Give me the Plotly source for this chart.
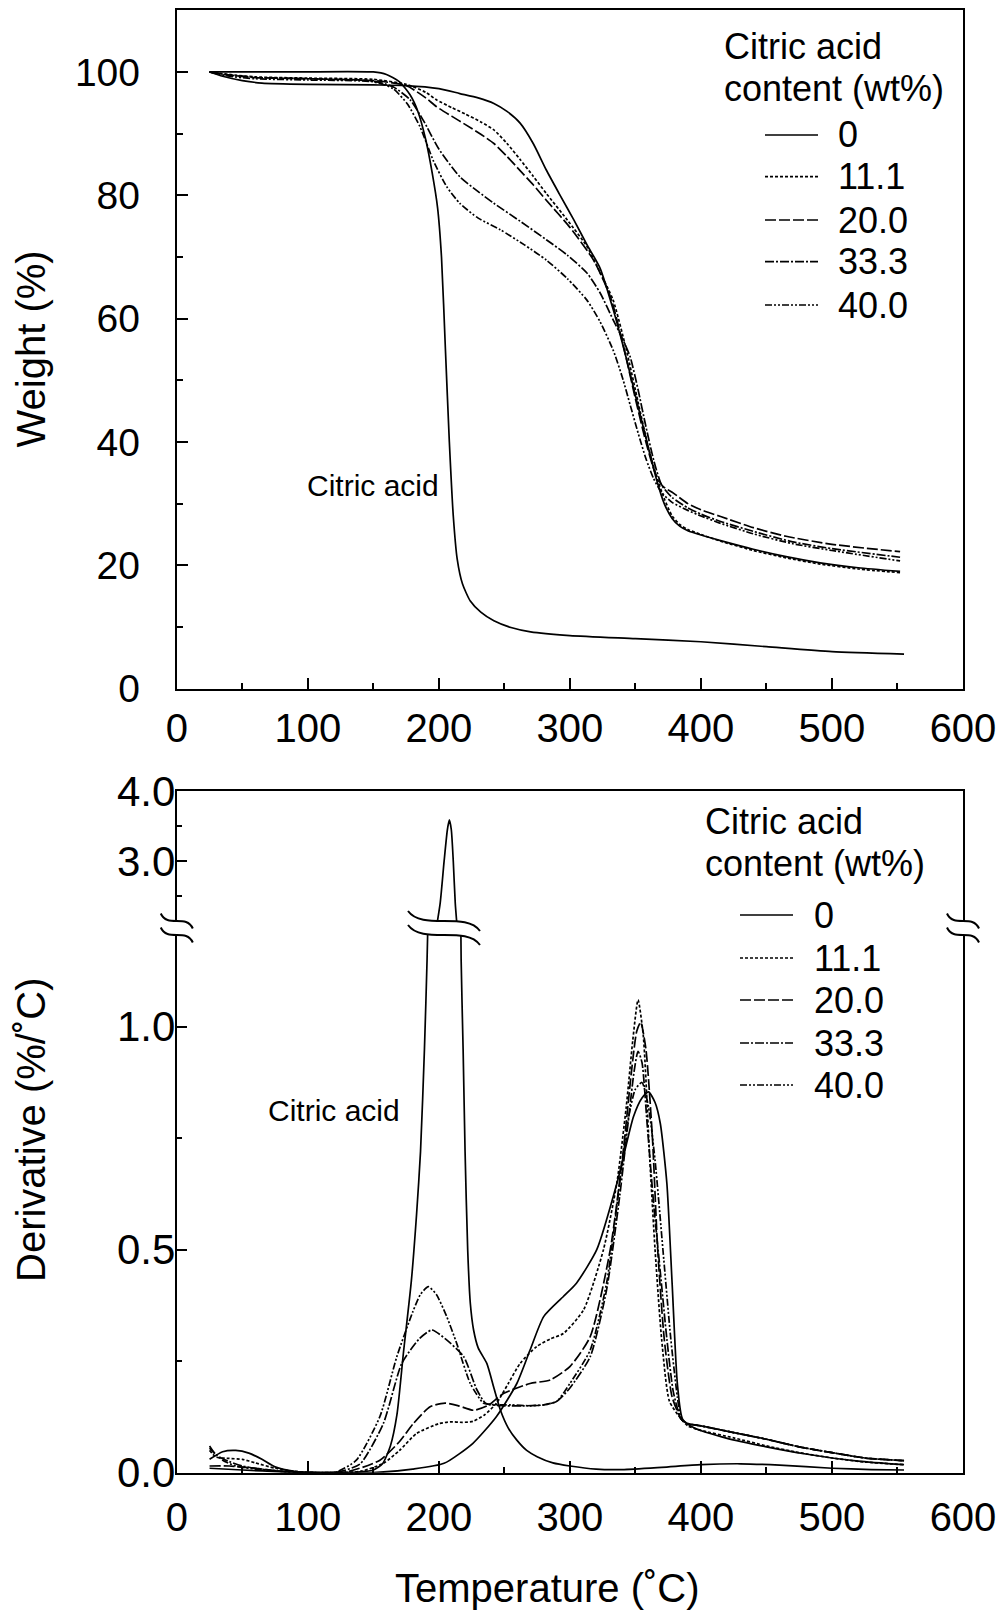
import plotly.graph_objects as go

W, H = 1000, 1612

SERIES = ["0", "11.1", "20.0", "33.3", "40.0"]
CITRIC_LABEL = "Citric acid"
LEGEND_TITLE = ["Citric acid", "content (wt%)"]
X_TICKS = [0, 100, 200, 300, 400, 500, 600]
Y_TOP_TICKS = [0, 20, 40, 60, 80, 100]
Y_LOW_TICKS = [0.0, 0.5, 1.0]
Y_LOW_LABELS = ["0.0", "0.5", "1.0"]
Y_UP_TICKS = [3.0, 4.0]
Y_UP_LABELS = ["3.0", "4.0"]

# ---------------- TGA: weight (%) ----------------
TGA_CA_T = [25, 80, 150, 160, 170, 178, 184, 190, 195, 199, 202, 205, 208, 211, 214, 218, 224, 232, 242, 255, 270, 300, 350, 400, 450, 500, 555]
TGA_CA_W = [100, 100, 100, 99.6, 98.4, 96.3, 93.6, 89, 83.5, 78, 70, 55, 40, 28, 21, 17, 14.2, 12.4, 11, 9.9, 9.2, 8.6, 8.1, 7.6, 6.8, 6.0, 5.6]

TGA_0_T = [25, 35, 50, 65, 100, 150, 175, 200, 216, 230, 242, 252, 262, 272, 282, 292, 303, 313, 323, 333, 343, 352, 360, 366, 372, 378, 384, 390, 400, 415, 440, 465, 491, 520, 552]
TGA_0_W = [100, 99.3, 98.6, 98.2, 98.0, 97.9, 97.8, 97.3, 96.5, 95.8, 94.9, 93.6, 91.7, 88.4, 84.1, 80.2, 76.0, 72.0, 68.2, 61.5, 53.6, 45.8, 39.0, 34.0, 30.0, 27.6, 26.3, 25.6, 24.9, 24.0, 22.6, 21.4, 20.4, 19.6, 19.0]

TGA_11_T = [25, 40, 60, 100, 150, 175, 190, 198, 210, 220, 232, 242, 252, 262, 272, 282, 298, 313, 323, 333, 343, 352, 360, 366, 372, 378, 384, 390, 400, 415, 440, 465, 491, 520, 552]
TGA_11_W = [100, 99.6, 99.2, 99.0, 98.8, 98.0, 96.7, 95.5, 94.2, 93.2, 91.9, 90.6, 88.4, 85.8, 83.1, 80.3, 76.0, 71.7, 67.5, 63.0, 55.0, 46.5, 39.0, 34.5, 30.8, 28.0, 26.6, 25.8, 25.0, 23.9, 22.4, 21.2, 20.2, 19.4, 18.8]

TGA_20_T = [25, 40, 60, 100, 150, 175, 190, 198, 210, 220, 232, 242, 252, 262, 272, 282, 300, 318, 331, 341, 350, 358, 365, 371, 379, 390, 400, 415, 440, 465, 500, 552]
TGA_20_W = [100, 99.5, 99.1, 98.9, 98.6, 97.8, 95.8, 94.4, 92.8, 91.5, 89.9, 88.4, 86.3, 84.0, 81.7, 79.2, 74.8, 69.5, 63.5, 55.4, 47.0, 40.0, 35.0, 32.8, 31.7, 30.0, 29.0, 27.9, 26.1, 24.7, 23.4, 22.2]

TGA_33_T = [25, 40, 60, 100, 150, 165, 178, 188, 200, 216, 230, 242, 262, 282, 298, 313, 323, 333, 340, 346, 352, 358, 364, 370, 378, 390, 400, 415, 440, 470, 500, 552]
TGA_33_W = [100, 99.5, 99.1, 98.9, 98.5, 97.6, 95.5, 92.2, 87.5, 83.0, 80.6, 78.7, 75.8, 72.8, 70.3, 67.4, 64.2, 59.8, 56.8, 53.8, 48.5, 42.5, 37.0, 33.0, 31.0, 29.3, 28.3, 27.1, 25.5, 23.8, 22.7, 21.3]

TGA_40_T = [25, 40, 60, 100, 150, 165, 176, 185.6, 196, 206, 216, 230, 247, 265, 282, 298, 313, 323, 333, 340, 346, 352, 358, 364, 370, 378, 390, 400, 415, 440, 470, 500, 552]
TGA_40_W = [100, 99.3, 98.9, 98.7, 98.4, 97.3, 94.8, 91.1, 85.5, 81.4, 78.7, 76.3, 74.4, 72.0, 69.5, 66.5, 63.0, 59.5, 54.9, 50.5, 46.0, 41.5, 37.3, 34.0, 31.8, 30.2, 28.9, 28.0, 26.8, 25.1, 23.5, 22.4, 20.7]

# ---------------- DTG: derivative (%/°C) ----------------
DTG_CA_T = [25, 50, 80, 110, 140, 150, 157, 163, 168, 173, 179, 183, 186, 189, 191, 196, 201, 204, 206.5, 208, 209.5, 211, 212.5, 215, 217, 218.5, 220, 222, 224, 226.5, 230, 236.6, 242, 247, 253, 259.5, 267, 275, 287, 300, 320, 340, 370, 400, 430, 460, 500, 530, 555]
DTG_CA_V = [0.01, 0.006, 0.002, 0.0, 0.002, 0.006, 0.02, 0.06, 0.13, 0.27, 0.43, 0.58, 0.72, 0.95, 1.15, 1.8, 2.4, 3.0, 3.45, 3.59, 3.45, 3.0, 2.4, 1.8, 1.15, 0.95, 0.72, 0.5, 0.38, 0.32, 0.28, 0.245, 0.19, 0.14, 0.1, 0.073, 0.05, 0.036, 0.022, 0.015, 0.008, 0.007, 0.012, 0.018, 0.02, 0.017, 0.01, 0.007, 0.006]

DTG_0_T = [25, 35, 45, 55, 65, 75, 90, 110, 150, 180, 204, 226, 244, 259.5, 269.6, 280, 295, 305, 320.5, 336, 348.5, 355, 360, 365, 369, 374, 378, 382, 386, 395, 420, 450, 480, 520, 555]
DTG_0_V = [0.03, 0.047, 0.05, 0.044, 0.03, 0.013, 0.003, 0.0, 0.0, 0.008, 0.021, 0.066, 0.126, 0.2, 0.275, 0.35, 0.395, 0.425, 0.5, 0.65, 0.798, 0.84, 0.854, 0.83, 0.783, 0.649, 0.425, 0.2, 0.12, 0.1, 0.077, 0.058, 0.042, 0.026, 0.018]

DTG_11_T = [25, 30, 40, 50, 60, 75, 90, 110, 140, 157.6, 170, 183, 200, 208.6, 218, 226, 235, 244, 253, 262, 274.7, 285, 295, 310.4, 325.6, 335.8, 343, 348, 352, 356, 361, 365, 370, 376, 385, 390, 400, 425, 450, 475, 500, 525, 555]
DTG_11_V = [0.05, 0.035, 0.032, 0.03, 0.022, 0.01, 0.003, 0.0, 0.003, 0.021, 0.05, 0.088, 0.11, 0.114, 0.113, 0.115, 0.13, 0.156, 0.2, 0.245, 0.283, 0.3, 0.312, 0.365, 0.5, 0.649, 0.82, 0.97, 1.06, 0.98, 0.7, 0.5, 0.3, 0.16, 0.12, 0.105, 0.095, 0.078, 0.06, 0.045, 0.033, 0.024, 0.018]

DTG_20_T = [25, 40, 60, 80, 100, 130, 155, 170, 180.5, 193.3, 204.7, 215, 226.4, 237, 249.6, 269.6, 285, 300, 315.5, 330.8, 340.8, 347, 351, 354, 358, 363, 367, 372, 378, 385, 390, 400, 425, 450, 475, 500, 525, 555]
DTG_20_V = [0.015, 0.015, 0.01, 0.003, 0.0, 0.002, 0.028, 0.07, 0.11, 0.148, 0.156, 0.15, 0.14, 0.15, 0.178, 0.2, 0.208, 0.238, 0.305, 0.5, 0.724, 0.9, 0.99, 1.01, 0.95, 0.75, 0.5, 0.3, 0.17, 0.12, 0.11, 0.105, 0.09, 0.075, 0.058, 0.045, 0.033, 0.027]

DTG_33_T = [25, 30, 40, 50, 70, 100, 125, 140, 157.6, 171.7, 185, 194.6, 205, 219, 229, 236, 250, 265, 280, 290, 300, 315.5, 328, 338, 345, 349, 352, 355, 359, 364, 369, 374, 379, 385, 390, 400, 425, 450, 475, 500, 525, 555]
DTG_33_V = [0.06, 0.04, 0.025, 0.015, 0.006, 0.0, 0.003, 0.02, 0.11, 0.245, 0.3, 0.32, 0.3, 0.26, 0.186, 0.155, 0.15, 0.15, 0.152, 0.16, 0.19, 0.26, 0.41, 0.62, 0.8, 0.9, 0.945, 0.92, 0.78, 0.6, 0.45, 0.3, 0.18, 0.12, 0.11, 0.105, 0.09, 0.075, 0.058, 0.045, 0.033, 0.027]

DTG_40_T = [25, 30, 35, 45, 60, 80, 100, 122, 137, 155, 167.9, 180, 186, 192, 198, 206, 213.6, 224, 234, 240, 255, 270, 280, 290, 300, 315.5, 328, 338, 345, 350, 355, 360, 365, 371, 377, 382, 385, 390, 400, 425, 450, 475, 500, 525, 555]
DTG_40_V = [0.055, 0.04, 0.028, 0.015, 0.008, 0.003, 0.0, 0.002, 0.028, 0.126, 0.26, 0.36, 0.4, 0.417, 0.4, 0.35, 0.29, 0.2, 0.156, 0.153, 0.152, 0.15, 0.152, 0.16, 0.2, 0.275, 0.425, 0.649, 0.8, 0.86, 0.875, 0.82, 0.7, 0.5, 0.3, 0.17, 0.12, 0.11, 0.105, 0.09, 0.075, 0.058, 0.045, 0.033, 0.027]

DASHES = ["solid", "3px,2px", "11px,3px", "9px,2px,2px,2px", "7px,2px,2px,2px,2px,2px"]

TGA_DATA = [(TGA_0_T, TGA_0_W), (TGA_11_T, TGA_11_W), (TGA_20_T, TGA_20_W), (TGA_33_T, TGA_33_W), (TGA_40_T, TGA_40_W)]
DTG_DATA = [(DTG_0_T, DTG_0_V), (DTG_11_T, DTG_11_V), (DTG_20_T, DTG_20_V), (DTG_33_T, DTG_33_V), (DTG_40_T, DTG_40_V)]

FONT = "Liberation Sans, Arial, sans-serif"
LW = 1.7


def pxx(x):
    return x / W


def pyy(y):
    return 1 - y / H


# layout geometry (pixels)
XL, XR = 176.8, 963.0
T_TOP, T_BOT = 10.3, 688.6
B_TOP, B_BRK, B_BOT = 791.3, 928.0, 1472.7
LOW_MAX = (B_BOT - B_BRK) / 446.0
UP_MIN = 4.0 - (B_BRK - B_TOP) / 69.9

fig = go.Figure()

fig.add_trace(go.Scatter(x=TGA_CA_T, y=TGA_CA_W, mode="lines", name=CITRIC_LABEL,
                         line=dict(color="black", width=LW, shape="spline", smoothing=0.6),
                         xaxis="x", yaxis="y", showlegend=False))
for name, (t, w), d in zip(SERIES, TGA_DATA, DASHES):
    fig.add_trace(go.Scatter(x=t, y=w, mode="lines", name=name,
                             line=dict(color="black", width=LW, dash=d, shape="spline", smoothing=0.6),
                             xaxis="x", yaxis="y", showlegend=False))

# derivative, lower and upper (broken) panels
for ya, xa in (("y2", "x2"), ("y3", "x3")):
    fig.add_trace(go.Scatter(x=DTG_CA_T, y=DTG_CA_V, mode="lines", name=CITRIC_LABEL,
                             line=dict(color="black", width=LW, shape="spline", smoothing=0.6),
                             xaxis=xa, yaxis=ya, showlegend=False))
for name, (t, v), d in zip(SERIES, DTG_DATA, DASHES):
    fig.add_trace(go.Scatter(x=t, y=v, mode="lines", name=name,
                             line=dict(color="black", width=LW, dash=d, shape="spline", smoothing=0.6),
                             xaxis="x2", yaxis="y2", showlegend=False))

tickfont = dict(family=FONT, size=40, color="black")
common = dict(showgrid=False, zeroline=False, linecolor="black", linewidth=2, automargin=False,
              tickcolor="black", tickwidth=2)
low_font = dict(family=FONT, size=42, color="black")
top_font = dict(family=FONT, size=39, color="black")

fig.update_layout(
    template="none",
    width=W, height=H, margin=dict(l=0, r=0, t=0, b=0, pad=0), autosize=False,
    paper_bgcolor="white", plot_bgcolor="white",
    xaxis=dict(domain=[pxx(XL), pxx(XR)], anchor="y", range=[0, 600], showline=True, mirror=True,
               ticks="inside", ticklen=11, tickvals=X_TICKS, ticklabelstandoff=3, tickfont=tickfont,
               minor=dict(ticks="inside", ticklen=6, tickwidth=2, tickcolor="black", dtick=50, tick0=0),
               **common),
    yaxis=dict(domain=[pyy(T_BOT), pyy(T_TOP)], anchor="x", range=[0, 110], showline=True, mirror=True,
               ticks="inside", ticklen=11, tickvals=Y_TOP_TICKS, ticklabelstandoff=27, tickfont=top_font,
               minor=dict(ticks="inside", ticklen=6, tickwidth=2, tickcolor="black", dtick=10, tick0=0),
               **common),
    xaxis2=dict(domain=[pxx(XL), pxx(XR)], anchor="y2", range=[0, 600], showline=True, mirror=False,
                ticks="inside", ticklen=12, tickvals=X_TICKS, ticklabelstandoff=8, tickfont=tickfont,
                minor=dict(ticks="inside", ticklen=6, tickwidth=2, tickcolor="black", dtick=50, tick0=0),
                **common),
    yaxis2=dict(domain=[pyy(B_BOT), pyy(B_BRK)], anchor="x2", range=[0, LOW_MAX], showline=True, mirror=True,
                ticks="inside", ticklen=10, tickvals=Y_LOW_TICKS, ticktext=Y_LOW_LABELS, ticklabelstandoff=-9,
                tickfont=low_font,
                minor=dict(ticks="inside", ticklen=5, tickwidth=2, tickcolor="black", tickvals=[0.25, 0.75]),
                **common),
    xaxis3=dict(domain=[pxx(XL), pxx(XR)], anchor="y3", range=[0, 600], showline=True, mirror=False,
                side="top", ticks="", showticklabels=False, **common),
    yaxis3=dict(domain=[pyy(B_BRK), pyy(B_TOP)], anchor="x3", range=[UP_MIN, 4.0001], showline=True, mirror=True,
                ticks="inside", ticklen=10, tickvals=Y_UP_TICKS, ticktext=Y_UP_LABELS, ticklabelstandoff=-9,
                tickfont=low_font,
                minor=dict(ticks="inside", ticklen=5, tickwidth=2, tickcolor="black", tickvals=[2.5, 3.5]),
                **common),
)

ann = []
# axis titles
ann.append(dict(text="Weight (%)", x=pxx(31), y=pyy((T_TOP + T_BOT) / 2), xref="paper", yref="paper",
                textangle=-90, showarrow=False, font=dict(family=FONT, size=40, color="black"),
                xanchor="center", yanchor="middle"))
ann.append(dict(text="Derivative (%/˚C)", x=pxx(31), y=pyy(1130), xref="paper", yref="paper",
                textangle=-90, showarrow=False, font=dict(family=FONT, size=40, color="black"),
                xanchor="center", yanchor="middle"))
ann.append(dict(text="Temperature (˚C)", x=pxx(547), y=pyy(1588), xref="paper", yref="paper",
                showarrow=False, font=dict(family=FONT, size=40, color="black"),
                xanchor="center", yanchor="middle"))
# in-plot labels
ann.append(dict(text=CITRIC_LABEL, x=149.4, y=33.0, xref="x", yref="y", showarrow=False,
                font=dict(family=FONT, size=30, color="black"), xanchor="center", yanchor="middle"))
ann.append(dict(text=CITRIC_LABEL, x=120.0, y=0.813, xref="x2", yref="y2", showarrow=False,
                font=dict(family=FONT, size=30, color="black"), xanchor="center", yanchor="middle"))

shapes = []
LEG_FONT = dict(family=FONT, size=36, color="black")
legends = [
    dict(title_x=721.7, title_y=[46.7, 88.3], line_x=(765, 818), text_x=836, ys=[135, 176.7, 220, 261.7, 305]),
    dict(title_x=703, title_y=[821.7, 863], line_x=(740, 793), text_x=812, ys=[915, 958, 1000, 1043, 1085]),
]
for lg in legends:
    for txt, yy in zip(LEGEND_TITLE, lg["title_y"]):
        ann.append(dict(text=txt, x=pxx(lg["title_x"]), y=pyy(yy), xref="paper", yref="paper",
                        showarrow=False, font=LEG_FONT, xanchor="left", yanchor="middle"))
    for name, d, yy in zip(SERIES, DASHES, lg["ys"]):
        ann.append(dict(text=name, x=pxx(lg["text_x"]), y=pyy(yy), xref="paper", yref="paper",
                        showarrow=False, font=LEG_FONT, xanchor="left", yanchor="middle"))
        shapes.append(dict(type="line", xref="paper", yref="paper",
                           x0=pxx(lg["line_x"][0]), x1=pxx(lg["line_x"][1]), y0=pyy(yy), y1=pyy(yy),
                           line=dict(color="black", width=LW, dash=d)))


def P(x, y):
    return f"{pxx(x):.5f},{pyy(y):.5f}"


def squiggle(cx, cy, hw, a, sep):
    k = 0.6
    cu, cl = cy - sep / 2, cy + sep / 2

    def pts(c):
        return [(cx - hw, c - a), (cx - k * hw, c + a), (cx + k * hw, c - a), (cx + hw, c + a)]

    u, l = pts(cu), pts(cl)
    fill = (f"M {P(*u[0])} C {P(*u[1])} {P(*u[2])} {P(*u[3])} L {P(*l[3])} "
            f"C {P(*l[2])} {P(*l[1])} {P(*l[0])} Z")
    shapes.append(dict(type="path", xref="paper", yref="paper", path=fill,
                       fillcolor="white", line=dict(width=0), layer="above"))
    for p in (u, l):
        shapes.append(dict(type="path", xref="paper", yref="paper",
                           path=f"M {P(*p[0])} C {P(*p[1])} {P(*p[2])} {P(*p[3])}",
                           line=dict(color="black", width=2), layer="above"))


squiggle(XL, B_BRK, 16, 7.5, 14)
squiggle(XR, B_BRK, 16, 7.5, 14)
squiggle(444, B_BRK, 36, 10, 14)

fig.update_layout(annotations=ann, shapes=shapes)
fig.write_html("out.html")
